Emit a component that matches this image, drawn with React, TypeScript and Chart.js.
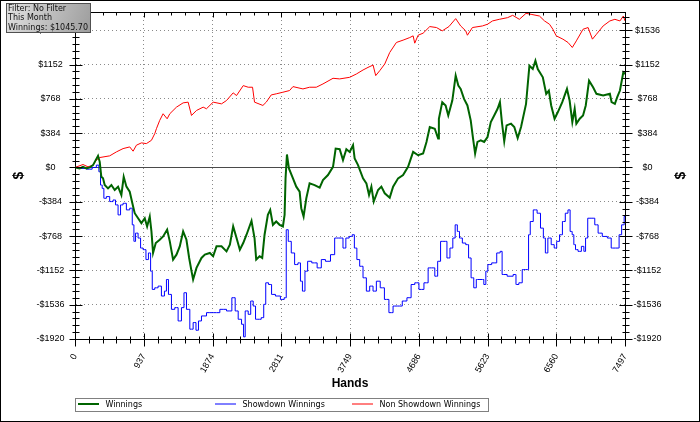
import { useEffect, useRef } from 'react';
import { Chart, registerables } from 'chart.js';

Chart.register(...registerables);

const TOTAL_HANDS = 7497;
const Y_MIN = -1920;
const Y_MAX = 1740;
const Y_STEP = 384;
const X_AXIS_TITLE = 'Hands';
const Y_AXIS_TITLE = '$';
const SERIES_LABELS = ['Winnings', 'Showdown Winnings', 'Non Showdown Winnings'];
const SERIES_COLORS = ['#006400', '#0000ff', '#ff0000'];
const FILTER_LINES = ['Filter: No Filter', 'This Month', 'Winnings: $1045.70'];

// Winnings (total)
const winHands = [0, 64, 109, 155, 200, 246, 282, 314, 337, 359, 382, 405, 450, 496, 541, 587, 632, 664, 701, 746, 792, 814, 860, 905, 951, 983, 1019, 1042, 1064, 1101, 1155, 1201, 1256, 1292, 1337, 1383, 1428, 1474, 1519, 1556, 1588, 1610, 1656, 1724, 1770, 1838, 1883, 1929, 1997, 2065, 2111, 2156, 2202, 2247, 2293, 2338, 2406, 2447, 2470, 2516, 2552, 2584, 2629, 2661, 2698, 2743, 2789, 2834, 2857, 2870, 2889, 2916, 2971, 3016, 3062, 3084, 3116, 3153, 3198, 3266, 3335, 3380, 3448, 3517, 3553, 3608, 3653, 3699, 3744, 3790, 3812, 3858, 3926, 3972, 4008, 4040, 4072, 4131, 4176, 4222, 4290, 4336, 4404, 4472, 4540, 4609, 4677, 4745, 4791, 4836, 4904, 4950, 4960, 5006, 5052, 5088, 5143, 5189, 5225, 5257, 5303, 5349, 5394, 5426, 5454, 5486, 5531, 5577, 5623, 5668, 5714, 5760, 5792, 5819, 5851, 5883, 5943, 5988, 6034, 6080, 6148, 6194, 6240, 6276, 6308, 6377, 6423, 6459, 6491, 6537, 6582, 6642, 6706, 6742, 6779, 6811, 6834, 6880, 6925, 6962, 7007, 7062, 7108, 7199, 7291, 7314, 7359, 7391, 7428, 7474, 7497];
const winValues = [0, -11, 7, -11, 0, 26, 82, 130, 63, -104, -122, -197, -234, -197, -252, -215, -308, -104, -215, -271, -438, -512, -568, -623, -568, -660, -549, -716, -957, -846, -809, -772, -697, -827, -1031, -976, -883, -716, -809, -1013, -1161, -1254, -1124, -1013, -976, -957, -994, -883, -883, -939, -864, -660, -790, -920, -846, -753, -597, -790, -1031, -994, -1013, -753, -530, -475, -642, -605, -642, -660, -530, -122, 145, -11, -122, -215, -271, -456, -549, -345, -178, -197, -226, -141, -85, 7, 211, 204, 82, 204, 174, 249, 100, 26, -122, -178, -308, -215, -382, -252, -215, -289, -338, -215, -122, -85, 7, 174, 137, 156, 286, 453, 434, 323, 545, 731, 694, 582, 749, 1028, 916, 879, 768, 694, 527, 323, 156, 286, 304, 286, 341, 508, 582, 657, 731, 508, 293, 471, 490, 453, 330, 453, 712, 1139, 1102, 1195, 1102, 1009, 824, 861, 694, 545, 620, 731, 879, 749, 508, 657, 490, 545, 582, 694, 972, 898, 824, 805, 824, 731, 712, 787, 861, 1065, 1046];

// Showdown Winnings
const sdHands = [0, 109, 200, 268, 314, 337, 359, 382, 405, 450, 496, 541, 564, 610, 632, 678, 723, 769, 792, 814, 837, 883, 905, 951, 983, 1019, 1042, 1064, 1110, 1155, 1201, 1237, 1256, 1292, 1337, 1383, 1428, 1474, 1497, 1542, 1588, 1633, 1665, 1701, 1747, 1838, 1929, 2020, 2111, 2165, 2202, 2247, 2293, 2302, 2338, 2384, 2406, 2452, 2470, 2516, 2561, 2584, 2616, 2661, 2698, 2766, 2834, 2870, 2889, 2925, 2971, 3016, 3062, 3084, 3116, 3153, 3189, 3266, 3335, 3380, 3448, 3517, 3562, 3630, 3676, 3708, 3767, 3790, 3826, 3858, 3903, 3949, 3994, 4040, 4085, 4131, 4190, 4245, 4313, 4358, 4427, 4495, 4554, 4609, 4654, 4722, 4791, 4836, 4882, 4927, 4960, 5006, 5052, 5088, 5134, 5166, 5198, 5225, 5257, 5303, 5349, 5381, 5417, 5454, 5486, 5554, 5591, 5609, 5646, 5714, 5783, 5806, 5838, 5943, 6002, 6020, 6080, 6112, 6171, 6194, 6217, 6276, 6322, 6368, 6400, 6423, 6468, 6514, 6550, 6582, 6628, 6660, 6706, 6733, 6765, 6788, 6811, 6834, 6880, 6925, 6948, 6971, 7007, 7062, 7108, 7153, 7222, 7291, 7327, 7405, 7428, 7474, 7497];
const sdValues = [0, -11, -19, 0, 26, -48, -197, -234, -345, -326, -382, -364, -419, -531, -419, -401, -475, -456, -642, -827, -735, -790, -902, -920, -1031, -957, -1161, -1365, -1347, -1328, -1439, -1384, -1254, -1421, -1588, -1569, -1718, -1569, -1402, -1588, -1810, -1736, -1822, -1718, -1662, -1625, -1625, -1588, -1606, -1458, -1606, -1699, -1755, -1896, -1606, -1644, -1495, -1551, -1699, -1699, -1681, -1532, -1291, -1310, -1421, -1439, -1477, -1458, -697, -827, -957, -1087, -1068, -1273, -1384, -1161, -1050, -1068, -1124, -1031, -1050, -976, -790, -790, -902, -790, -772, -753, -902, -1031, -1106, -1235, -1384, -1328, -1384, -1273, -1347, -1477, -1625, -1551, -1551, -1495, -1458, -1310, -1291, -1365, -1291, -1124, -1124, -1217, -1050, -827, -827, -1013, -902, -790, -642, -716, -790, -846, -864, -1013, -1235, -1347, -1254, -1254, -1310, -1161, -1087, -1068, -957, -939, -1198, -1217, -1198, -1310, -1291, -1143, -1143, -753, -605, -475, -512, -679, -790, -957, -790, -864, -902, -827, -753, -605, -512, -475, -716, -753, -864, -920, -939, -883, -939, -790, -568, -568, -642, -735, -772, -790, -902, -902, -753, -642, -549];

// Non Showdown Winnings
const nsdHands = [0, 109, 177, 246, 291, 337, 473, 564, 655, 746, 792, 837, 905, 973, 1042, 1087, 1110, 1155, 1201, 1256, 1292, 1383, 1474, 1542, 1588, 1656, 1747, 1792, 1883, 1997, 2065, 2156, 2202, 2293, 2361, 2420, 2447, 2561, 2607, 2675, 2743, 2834, 2925, 2971, 3107, 3198, 3289, 3380, 3517, 3608, 3744, 3835, 3926, 3994, 4063, 4099, 4154, 4222, 4290, 4381, 4472, 4563, 4609, 4631, 4677, 4745, 4836, 4927, 5006, 5097, 5189, 5257, 5326, 5349, 5417, 5554, 5623, 5691, 5783, 5897, 5966, 6057, 6148, 6217, 6331, 6400, 6468, 6514, 6560, 6651, 6720, 6779, 6834, 6925, 6994, 7053, 7108, 7199, 7291, 7359, 7428, 7474, 7497];
const nsdValues = [0, 33, 7, 26, 82, 111, 130, 174, 211, 230, 182, 249, 275, 267, 304, 378, 434, 527, 601, 545, 601, 675, 723, 731, 582, 638, 675, 657, 731, 712, 749, 835, 805, 916, 898, 898, 731, 694, 731, 812, 824, 842, 861, 905, 879, 898, 898, 935, 998, 991, 1009, 1046, 1091, 1120, 1146, 1028, 1083, 1158, 1287, 1399, 1425, 1454, 1473, 1391, 1480, 1503, 1577, 1566, 1529, 1577, 1666, 1584, 1529, 1480, 1566, 1584, 1603, 1640, 1658, 1677, 1703, 1658, 1725, 1714, 1695, 1640, 1603, 1547, 1473, 1436, 1399, 1343, 1417, 1547, 1566, 1436, 1491, 1584, 1640, 1658, 1640, 1695, 1640];

const toPoints = (xs: number[], ys: number[]) => xs.map((x, i) => ({ x, y: ys[i] }));
const fmtDollar = (v: number) => (v < 0 ? '-$' + Math.abs(v) : '$' + v);

const decorPlugin = {
  id: 'decor',
  beforeDatasetsDraw(chart: any) {
    const { ctx, chartArea: a, scales } = chart;
    const y0 = Math.round(scales.y.getPixelForValue(0)) + 0.5;
    ctx.save();
    ctx.strokeStyle = '#4a4a4a';
    ctx.lineWidth = 1;
    ctx.beginPath();
    ctx.moveTo(a.left, y0);
    ctx.lineTo(a.right, y0);
    ctx.stroke();
    ctx.restore();
  },
  afterDraw(chart: any) {
    const { ctx, chartArea: a, scales } = chart;
    const L = Math.round(a.left) + 0.5;
    const R = Math.round(a.right) + 0.5;
    const T = Math.round(a.top) + 0.5;
    const B = Math.round(a.bottom) + 0.5;
    ctx.save();
    ctx.strokeStyle = '#000';
    ctx.lineWidth = 1;
    const line = (x1: number, y1: number, x2: number, y2: number) => {
      ctx.beginPath();
      ctx.moveTo(x1, y1);
      ctx.lineTo(x2, y2);
      ctx.stroke();
    };
    line(L, T, R, T);
    const yMinor = Y_STEP / 5;
    for (let i = 0; Y_MIN + i * yMinor <= Y_MAX + 1e-6; i++) {
      const v = Y_MIN + i * yMinor;
      const py = Math.round(scales.y.getPixelForValue(v)) + 0.5;
      const len = i % 5 === 0 ? 6 : 3;
      line(L - len, py, L + len + 1, py);
      line(R - len, py, R + len + 1, py);
    }
    for (let i = 0; i <= 40; i++) {
      const v = (i * TOTAL_HANDS) / 40;
      const px = Math.round(scales.x.getPixelForValue(v)) + 0.5;
      const len = i % 5 === 0 ? 6 : 3;
      line(px, B - len, px, B + len + 1);
      line(px, T, px, T + (i % 5 === 0 ? 5 : 3));
    }
    ctx.fillStyle = '#000';
    ctx.font = 'bold 14px "Liberation Sans", Arial, sans-serif';
    ctx.textAlign = 'center';
    ctx.textBaseline = 'middle';
    const cy = (a.top + a.bottom) / 2;
    [19, 681].forEach((tx) => {
      ctx.save();
      ctx.translate(tx, cy);
      ctx.rotate(-Math.PI / 2);
      ctx.fillText(Y_AXIS_TITLE, 0, 0);
      ctx.restore();
    });
    ctx.fillStyle = '#fff';
    ctx.fillRect(75.5, 398.5, 413, 13);
    ctx.strokeStyle = '#808080';
    ctx.strokeRect(75.5, 398.5, 413, 13);
    ctx.font = '8px "DejaVu Sans", Verdana, sans-serif';
    ctx.textAlign = 'left';
    chart.data.datasets.forEach((ds: any, i: number) => {
      const lx = 78 + i * 137;
      ctx.strokeStyle = ds.borderColor;
      ctx.lineWidth = i === 0 ? 2 : 1;
      ctx.beginPath();
      ctx.moveTo(lx, 404);
      ctx.lineTo(lx + 21, 404);
      ctx.stroke();
      ctx.fillStyle = '#000';
      ctx.fillText(ds.label, lx + 27.5, 405);
    });
    const grad = ctx.createLinearGradient(6, 3, 91, 33);
    grad.addColorStop(0, '#e2e2e2');
    grad.addColorStop(1, '#9c9c9c');
    ctx.fillStyle = grad;
    ctx.fillRect(6.5, 3.5, 84, 29);
    ctx.strokeStyle = '#505050';
    ctx.lineWidth = 1;
    ctx.strokeRect(6.5, 3.5, 84, 29);
    ctx.fillStyle = '#111';
    ctx.font = '8px "DejaVu Sans", Verdana, sans-serif';
    ctx.textBaseline = 'middle';
    FILTER_LINES.forEach((t, i) => ctx.fillText(t, 8, 8.5 + i * 9.6));
    ctx.strokeStyle = '#000';
    ctx.strokeRect(0.5, 0.5, 699, 421);
    ctx.restore();
  },
};

export default function App() {
  const ref = useRef<HTMLCanvasElement>(null);
  useEffect(() => {
    if (!ref.current) return;
    const yTicks: number[] = [];
    for (let v = Y_MIN; v <= Y_MAX; v += Y_STEP) yTicks.push(v);
    const xTicks: number[] = [];
    for (let i = 0; i <= 8; i++) xTicks.push((i * TOTAL_HANDS) / 8);
    const tickFont = { size: 9, family: '"Liberation Sans", Arial, sans-serif' };
    const gridColorY = (c: any) =>
      c.tick && c.tick.value !== 0 && c.tick.value !== Y_MIN ? '#8a8a8a' : 'rgba(0,0,0,0)';
    const fitY = (s: any) => {
      s.width = 75;
      s.paddingTop = 0;
      s.paddingBottom = 0;
    };
    const chart = new Chart(ref.current, {
      type: 'line',
      data: {
        datasets: [
          { label: SERIES_LABELS[0], data: toPoints(winHands, winValues), borderColor: SERIES_COLORS[0], borderWidth: 2 },
          { label: SERIES_LABELS[1], data: toPoints(sdHands, sdValues), borderColor: SERIES_COLORS[1], borderWidth: 1, stepped: 'middle' },
          { label: SERIES_LABELS[2], data: toPoints(nsdHands, nsdValues), borderColor: SERIES_COLORS[2], borderWidth: 1 },
        ].map((d) => ({ ...d, pointRadius: 0, fill: false, tension: 0 })) as any,
      },
      options: {
        animation: false,
        responsive: false,
        devicePixelRatio: 1,
        layout: { padding: { top: 12, left: 0, right: 0, bottom: 0 } },
        plugins: { legend: { display: false }, tooltip: { enabled: false } },
        scales: {
          x: {
            type: 'linear',
            min: 0,
            max: TOTAL_HANDS,
            afterBuildTicks: (s: any) => { s.ticks = xTicks.map((value) => ({ value })); },
            afterFit: (s: any) => { s.height = 83; s.paddingLeft = 0; s.paddingRight = 0; },
            ticks: {
              autoSkip: false,
              minRotation: 60,
              maxRotation: 60,
              padding: 13,
              color: '#000',
              font: tickFont,
              callback: (v: any) => String(Math.round(Number(v))),
            },
            grid: {
              drawTicks: false,
              color: (c: any) =>
                c.tick && c.tick.value > 1 && c.tick.value < TOTAL_HANDS - 1 ? '#8a8a8a' : 'rgba(0,0,0,0)',
            },
            border: { display: true, color: '#000', width: 1, dash: [1, 3] },
            title: {
              display: true,
              text: X_AXIS_TITLE,
              color: '#000',
              font: { size: 12, weight: 'bold', family: '"Liberation Sans", Arial, sans-serif' },
              padding: { top: 0, bottom: 31 },
            },
          },
          y: {
            type: 'linear',
            position: 'left',
            min: Y_MIN,
            max: Y_MAX,
            afterBuildTicks: (s: any) => { s.ticks = yTicks.map((value) => ({ value })); },
            afterFit: fitY,
            ticks: { crossAlign: 'center', padding: 10.5, color: '#000', font: tickFont, callback: (v: any) => fmtDollar(Number(v)) },
            grid: { drawTicks: false, color: gridColorY },
            border: { display: true, color: '#000', width: 1, dash: [1, 3] },
          },
          y2: {
            type: 'linear',
            position: 'right',
            min: Y_MIN,
            max: Y_MAX,
            afterBuildTicks: (s: any) => { s.ticks = yTicks.map((value) => ({ value })); },
            afterFit: fitY,
            ticks: { crossAlign: 'center', padding: 8.5, color: '#000', font: tickFont, callback: (v: any) => fmtDollar(Number(v)) },
            grid: { drawTicks: false, drawOnChartArea: false },
            border: { display: true, color: '#000', width: 1 },
          },
        },
      } as any,
      plugins: [decorPlugin],
    });
    return () => chart.destroy();
  }, []);
  return (
    <div style={{ position: 'fixed', left: 0, top: 0, width: 700, height: 422, background: '#fff' }}>
      <canvas ref={ref} width={700} height={422} style={{ display: 'block' }} />
    </div>
  );
}
